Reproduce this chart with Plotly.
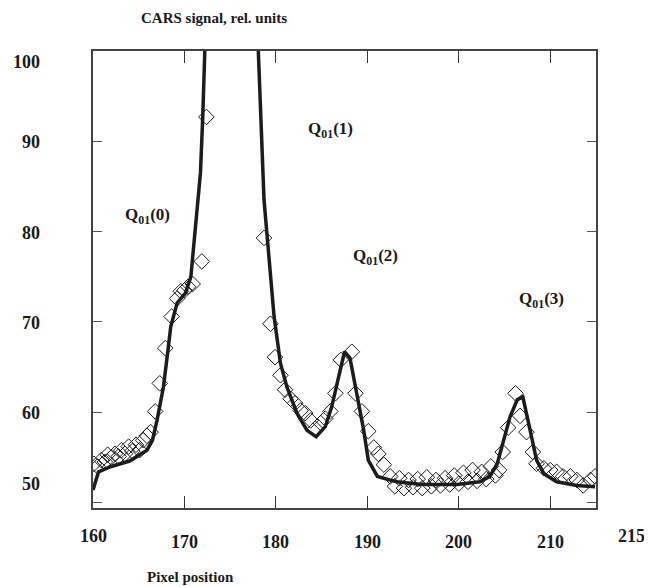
import plotly.graph_objects as go

# ---- data ----
fit_x = [160, 160.6, 162, 164, 165.9, 166.5, 167.0, 167.7, 168.2, 168.5, 169.2, 170.1, 170.7,
         171.2, 171.75, 172.0, 173, 175, 177, 178, 178.7, 179.2, 179.8, 180.5, 181.2, 182.3,
         183.4, 184.4, 185.4, 186.1, 186.9, 187.5, 188.1, 188.9, 189.6, 190.1, 191.1, 193.2,
         196, 199.8, 202.3, 203.4, 204.2, 204.9, 205.6, 206.4, 207.0, 207.8, 208.5, 209.3,
         210.7, 212.9, 214.9]
fit_y = [51.4, 53.4, 54.0, 54.6, 55.8, 56.9, 59.1, 62.8, 66.9, 69.5, 72.1, 73.2, 75.0,
         80.5, 86.5, 92.7, 117, 190, 140, 102, 83.5, 78.0, 70.6, 65.4, 62.8, 59.9,
         58.0, 57.3, 58.4, 60.6, 64.3, 66.7, 66.0, 61.7, 58.0, 54.7, 52.9, 52.3,
         52.0, 52.0, 52.3, 52.9, 54.3, 56.9, 59.5, 61.4, 61.7, 58.0, 54.7, 53.2,
         52.3, 51.9, 51.75]

meas_x = [160.1, 160.5, 160.9, 161.3, 161.6, 162.0, 162.4, 162.8, 163.1, 163.5, 163.9, 164.3,
          164.7, 165.1, 165.5, 165.9, 166.3, 166.8, 167.3, 167.9, 168.6, 169.2, 169.6, 170.0,
          170.4, 170.9, 171.9, 172.4,
          178.7, 179.4, 179.9, 180.5, 181.0, 181.6, 182.1, 182.7, 183.2, 183.8, 184.3, 184.9,
          185.4, 185.95, 186.5, 187.1, 188.3, 188.7, 189.4, 190.1, 190.7, 191.2, 191.8, 192.5,
          193.0, 193.5, 194.0, 194.5, 195.0, 195.5, 196.0, 196.5, 197.0, 197.5, 198.0, 198.5,
          199.0, 199.5, 200.0, 200.5, 201.0, 201.5, 202.0, 202.5, 203.0, 203.5, 204.0,
          204.4, 204.8, 205.4, 206.2, 206.7, 207.4, 208.1, 208.5, 209.3, 210.0, 210.7, 211.4,
          212.2, 212.9, 213.6, 214.4, 214.9]
meas_y = [54.3, 54.0, 54.7, 54.5, 55.3, 55.0, 55.4, 55.1, 55.8, 55.4, 56.2, 55.7,
          56.4, 55.8, 56.9, 57.4, 57.8, 60.1, 63.2, 67.1, 70.6, 72.6, 73.4, 73.5,
          73.9, 74.2, 76.7, 92.7,
          79.3, 69.8, 66.1, 64.1, 62.5, 61.5, 61.0, 60.2, 59.9, 59.1, 58.2, 58.8,
          59.3, 60.1, 62.1, 65.8, 66.7, 62.1, 60.1, 57.9, 56.1, 55.4, 54.2, 52.9,
          51.8, 52.7, 51.6, 52.5, 51.7, 52.6, 51.6, 52.8, 51.8, 52.5, 51.9, 52.7,
          52.0, 53.0, 52.1, 53.3, 52.3, 53.6, 52.4, 53.4, 52.6, 54.0, 53.0,
          53.6, 55.6, 58.3, 62.1, 59.6, 57.8, 55.6, 54.3, 53.8, 53.6, 53.4, 52.9,
          52.9, 52.5, 51.9, 52.5, 52.9]

x_ticks = [160, 170, 180, 190, 200, 210, 215]
y_ticks = [50, 60, 70, 80, 90, 100]
peak_labels = ["Q<sub>01</sub>(0)", "Q<sub>01</sub>(1)", "Q<sub>01</sub>(2)", "Q<sub>01</sub>(3)"]
peak_label_x = [166.0, 186.0, 190.9, 209.0]
peak_label_y = [81.7, 91.2, 77.2, 72.4]

FONT = "Liberation Serif, Times New Roman, serif"
TXT = "#1a1a1a"

fig = go.Figure()
fig.add_trace(go.Scatter(x=meas_x, y=meas_y, mode="markers",
                         marker=dict(symbol="diamond-open", size=12, color=TXT,
                                     line=dict(width=1, color=TXT)),
                         showlegend=False))
fig.add_trace(go.Scatter(x=fit_x, y=fit_y, mode="lines",
                         line=dict(color="#1c1c1c", width=3.5), showlegend=False))

ann = []
# x tick labels
for v in x_ticks:
    xs = 35 if v == 215 else 0
    ys = -28 if v in (160, 215) else -34
    ann.append(dict(x=v, y=0, xref="x", yref="paper", text=f"<b>{v}</b>",
                    showarrow=False, xanchor="center", yanchor="middle",
                    xshift=xs, yshift=ys, font=dict(family=FONT, size=18, color=TXT)))
# y tick labels
yshifts = {100: -11, 50: 19}
for v in y_ticks:
    ann.append(dict(x=0, y=v, xref="paper", yref="y", text=f"<b>{v}</b>",
                    showarrow=False, xanchor="right", yanchor="middle",
                    xshift=-51, yshift=yshifts.get(v, -1),
                    font=dict(family=FONT, size=18, color=TXT)))
# peak labels
for t, px, py in zip(peak_labels, peak_label_x, peak_label_y):
    ann.append(dict(x=px, y=py, xref="x", yref="y", text=f"<b>{t}</b>", showarrow=False,
                    xanchor="center", yanchor="middle",
                    font=dict(family=FONT, size=17, color=TXT)))
# axis titles
ann.append(dict(x=(214 - 93) / 503, y=1 + (51 - 18) / 457, xref="paper", yref="paper",
                text="<b>CARS signal, rel. units</b>", showarrow=False,
                xanchor="center", yanchor="middle",
                font=dict(family=FONT, size=15, color=TXT)))
ann.append(dict(x=(190 - 93) / 503, y=-(577 - 508) / 457, xref="paper", yref="paper",
                text="<b>Pixel position</b>", showarrow=False, xanchor="center",
                yanchor="middle", font=dict(family=FONT, size=15, color=TXT)))

# page body adds an 8px offset, so the figure is 8px smaller and margins shifted
fig.update_layout(
    width=644, height=579,
    margin=dict(l=85, r=56, t=43, b=79),
    paper_bgcolor="white", plot_bgcolor="white",
    annotations=ann,
    xaxis=dict(range=[160, 215], tickvals=[170, 180, 190, 200, 210], showticklabels=False,
               ticks="inside", ticklen=12, tickwidth=1, tickcolor="#333",
               showline=True, linecolor="#444", linewidth=1.5, mirror="ticks",
               showgrid=False, zeroline=False),
    yaxis=dict(range=[49.4, 100], tickvals=y_ticks, showticklabels=False,
               ticks="inside", ticklen=9, tickwidth=1, tickcolor="#555",
               showline=True, linecolor="#444", linewidth=1.5, mirror="ticks",
               showgrid=False, zeroline=False),
)
fig.write_html("out.html")
